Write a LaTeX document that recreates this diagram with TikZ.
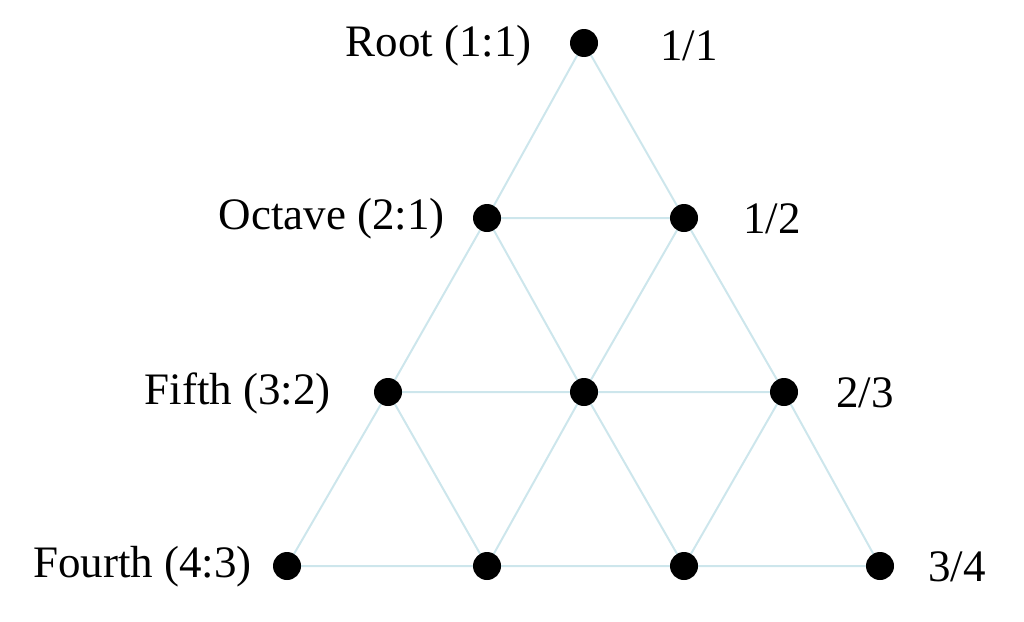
\documentclass[tikz,border=0pt]{standalone}
\usepackage{fontspec}
\setmainfont{Liberation Serif}
\definecolor{edgec}{RGB}{205,230,236}
\begin{document}
\begin{tikzpicture}[x=1pt,y=-1pt,
  dot/.style={circle,fill=black,inner sep=0pt,minimum size=28pt},
  edge/.style={draw=edgec,line width=2pt},
  lab/.style={font=\fontsize{45}{45}\selectfont,inner sep=0pt}]
\useasboundingbox (0,0) rectangle (1024,621);
\coordinate (a) at (584,43);
\coordinate (b1) at (487,218);
\coordinate (b2) at (684,218);
\coordinate (c1) at (388,392);
\coordinate (c2) at (584,392);
\coordinate (c3) at (784,392);
\coordinate (d1) at (287,566);
\coordinate (d2) at (487,566);
\coordinate (d3) at (684,566);
\coordinate (d4) at (880,566);
\path[edge] (a) -- (b1) (a) -- (b2) (b1) -- (b2)
  (b1) -- (c1) (b1) -- (c2) (b2) -- (c2) (b2) -- (c3)
  (c1) -- (c2) (c2) -- (c3)
  (c1) -- (d1) (c1) -- (d2) (c2) -- (d2) (c2) -- (d3)
  (c3) -- (d3) (c3) -- (d4)
  (d1) -- (d2) (d2) -- (d3) (d3) -- (d4);
\foreach \n in {a,b1,b2,c1,c2,c3,d1,d2,d3,d4} \node[dot] (n\n) at (\n) {};
\node[lab,anchor=east] (la) at (532,46) {Root (1:1)};
\node[lab,anchor=east] (lb) at (445,219) {Octave (2:1)};
\node[lab,anchor=east] (lc) at (331,393) {Fifth (3:2)};
\node[lab,anchor=east] (ld) at (252,567) {Fourth (4:3)};
\node[lab,anchor=west] (ra) at (660,46) {1/1};
\node[lab,anchor=west] (rb) at (743,219) {1/2};
\node[lab,anchor=west] (rc) at (836,393) {2/3};
\node[lab,anchor=west] (rd) at (928,567) {3/4};
\end{tikzpicture}
\end{document}
